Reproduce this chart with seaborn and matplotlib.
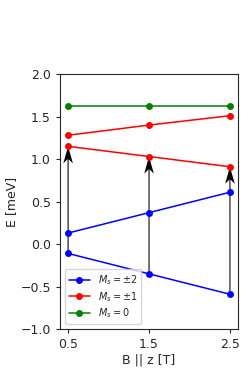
import matplotlib
matplotlib.use('Agg')
import numpy as np
import pandas as pd
import matplotlib.pyplot as plt
import seaborn as sns

# field values and energy levels (meV)
B = [0.5, 1.5, 2.5]
ms2_low = [-0.11, -0.35, -0.59]
ms2_high = [0.13, 0.37, 0.61]
ms1_low = [1.15, 1.03, 0.91]
ms1_high = [1.28, 1.40, 1.51]
ms0 = [1.62, 1.62, 1.62]

sns.set_style("ticks")
plt.rcParams['font.family'] = ['DejaVu Sans']
plt.rcParams['mathtext.fontset'] = 'dejavusans'

fig = plt.figure(figsize=(2.49, 3.74), dpi=100)
ax = fig.add_axes([0.241, 0.12, 0.715, 0.682])

# transitions Ms=-2 -> Ms=-1
x = np.array(B)
y0 = np.array(ms2_low)
dy = np.array(ms1_low) - y0
ax.quiver(x, y0, np.zeros_like(x), dy, angles='xy', scale_units='xy', scale=1,
          width=0.006, headwidth=9, headlength=16, headaxislength=12,
          color='black', zorder=1)

kw = dict(marker='o', markersize=5, markeredgewidth=0, linewidth=1.1, ax=ax, zorder=3)
sns.lineplot(x=B, y=ms2_low, color='blue', label=r'$M_s = \pm2$', **kw)
sns.lineplot(x=B, y=ms2_high, color='blue', **kw)
sns.lineplot(x=B, y=ms1_low, color='red', label=r'$M_s = \pm1$', **kw)
sns.lineplot(x=B, y=ms1_high, color='red', **kw)
sns.lineplot(x=B, y=ms0, color='green', label=r'$M_s = 0$', **kw)

ax.set_xlim(0.4, 2.6)
ax.set_ylim(-1.0, 2.0)
ax.set_xticks(B)
ax.set_xticklabels(['0.5', '1.5', '2.5'])
ax.set_yticks([-1.0, -0.5, 0.0, 0.5, 1.0, 1.5, 2.0])
ax.tick_params(labelsize=9, length=3, width=0.8)
ax.set_xlabel('B || z [T]', fontsize=9, labelpad=2)
ax.set_ylabel('E [meV]', fontsize=9, labelpad=2)
for s in ax.spines.values():
    s.set_linewidth(0.8)
ax.legend(loc='lower left', fontsize=7, handlelength=2.2, borderpad=0.4,
          labelspacing=0.3, framealpha=0.8)

plt.savefig('out.png', dpi=100)
plt.close()
